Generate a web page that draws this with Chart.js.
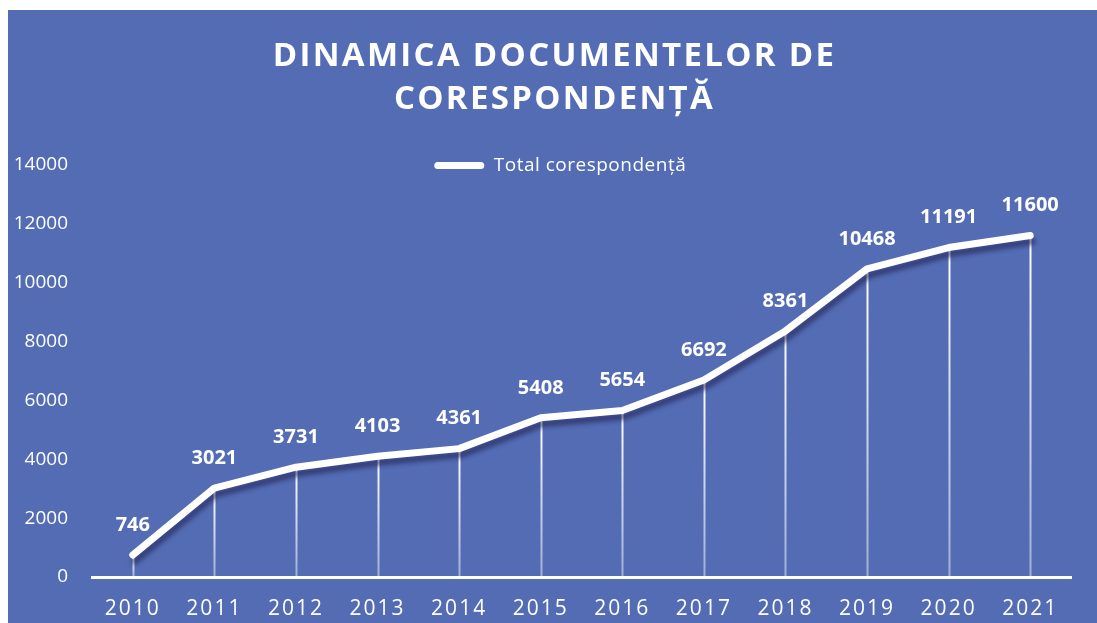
<!DOCTYPE html>
<html>
<head>
<meta charset="utf-8">
<script src="https://cdn.jsdelivr.net/npm/chart.js@4.4.1/dist/chart.umd.min.js"></script>
<style>
  html, body { margin: 0; padding: 0; background: #ffffff; }
  canvas { display: block; }
</style>
</head>
<body>
<canvas id="c" width="1097" height="623"></canvas>
<script>
// ---- data ----
const years = ['2010', '2011', '2012', '2013', '2014', '2015', '2016', '2017', '2018', '2019', '2020', '2021'];
const totalCorespondenta = [746, 3021, 3731, 4103, 4361, 5408, 5654, 6692, 8361, 10468, 11191, 11600];
const yTickValues = [0, 2000, 4000, 6000, 8000, 10000, 12000, 14000];
const titleLines = ['DINAMICA DOCUMENTELOR DE', 'CORESPONDENȚĂ'];
const seriesLabel = 'Total corespondență';

// ---- style ----
const BG = '#536cb4';
const FONT = '"Open Sans", "Noto Sans", sans-serif';
const LEGEND_H = 19;
const LEGEND_SHIFT = 14;
const TITLE_SHIFT = 13;

const bgPlugin = {
  id: 'bg',
  beforeDraw(chart) {
    const c = chart.ctx;
    c.save();
    c.fillStyle = '#ffffff';
    c.fillRect(0, 0, chart.width, chart.height);
    c.fillStyle = BG;
    c.fillRect(8, 10, chart.width - 8, chart.height - 10);
    c.restore();
  }
};

function withShift(box, dx, extraH, spacing) {
  const d = box.draw;
  box.draw = function (a) {
    const saved = { left: this.left, right: this.right, bottom: this.bottom, height: this.height };
    this.left += dx; this.right += dx;
    this.bottom += extraH; this.height += extraH;
    const c = this.ctx;
    c.save();
    if (spacing) c.letterSpacing = spacing;
    d.call(this, a);
    c.restore();
    Object.assign(this, saved);
  };
}

const patchPlugin = {
  id: 'patches',
  beforeLayout(chart) {
    const lg = chart.legend;
    if (lg && !lg.__p) {
      const f = lg.fit;
      lg.fit = function () { f.apply(this, arguments); this.height = LEGEND_H; };
      withShift(lg, LEGEND_SHIFT, 24, '0.5px');
      lg.__p = true;
    }
  },
  beforeDraw(chart) {
    const t = chart.titleBlock;
    if (t && !t.__p) {
      withShift(t, TITLE_SHIFT, 0, '2.3px');
      t.__p = true;
    }
    const x = chart.scales.x;
    if (x && !x.__p) {
      const dl = x.drawLabels;
      x.drawLabels = function (a) { const c = this.ctx; c.save(); c.letterSpacing = '2px'; dl.call(this, a); c.restore(); };
      x.__p = true;
    }
  }
};

const dropLines = {
  id: 'dropLines',
  beforeDatasetsDraw(chart) {
    const meta = chart.getDatasetMeta(0);
    const c = chart.ctx;
    const bottom = chart.chartArea.bottom;
    c.save();
    c.lineWidth = 2;
    meta.data.forEach((p) => {
      const g = c.createLinearGradient(0, p.y, 0, bottom);
      g.addColorStop(0, 'rgba(255,255,255,1)');
      g.addColorStop(1, 'rgba(255,255,255,0.45)');
      c.strokeStyle = g;
      c.beginPath();
      c.moveTo(Math.round(p.x) + 0.5, p.y);
      c.lineTo(Math.round(p.x) + 0.5, bottom);
      c.stroke();
    });
    c.restore();
  }
};

const lineShadow = {
  id: 'lineShadow',
  beforeDatasetDraw(chart) {
    const c = chart.ctx;
    c.save();
    c.shadowColor = 'rgba(35,35,85,0.6)';
    c.shadowOffsetX = 2;
    c.shadowOffsetY = 6;
    c.shadowBlur = 4;
  },
  afterDatasetDraw(chart) {
    chart.ctx.restore();
  }
};

const valueLabels = {
  id: 'valueLabels',
  afterDatasetsDraw(chart) {
    const meta = chart.getDatasetMeta(0);
    const ds = chart.data.datasets[0].data;
    const c = chart.ctx;
    c.save();
    c.fillStyle = '#ffffff';
    c.font = 'bold 20px ' + FONT;
    c.textAlign = 'center';
    c.textBaseline = 'middle';
    meta.data.forEach((p, i) => {
      c.fillText(String(ds[i]), p.x, p.y - 30);
    });
    c.restore();
  }
};

new Chart(document.getElementById('c'), {
  type: 'line',
  data: {
    labels: years,
    datasets: [{
      label: seriesLabel,
      data: totalCorespondenta,
      borderColor: '#ffffff',
      backgroundColor: '#ffffff',
      borderWidth: 7,
      borderCapStyle: 'round',
      borderJoinStyle: 'round',
      pointRadius: 0,
      pointHoverRadius: 0,
      tension: 0,
      fill: false
    }]
  },
  options: {
    responsive: false,
    animation: false,
    devicePixelRatio: 1,
    layout: { padding: { top: 10, left: 12, right: 26, bottom: 5 } },
    plugins: {
      title: {
        display: true,
        text: titleLines,
        color: '#ffffff',
        font: { family: FONT, size: 33, weight: 'bold', lineHeight: 1.3 },
        padding: { top: 25.5, bottom: 24.6 }
      },
      legend: {
        display: true,
        position: 'top',
        labels: {
          color: '#ffffff',
          font: { family: FONT, size: 19 },
          boxWidth: 50,
          boxHeight: 7,
          padding: 10,
          useBorderRadius: true,
          borderRadius: 3.5,
          generateLabels: () => [{
            text: seriesLabel,
            fillStyle: '#ffffff',
            strokeStyle: '#ffffff',
            fontColor: '#ffffff',
            lineWidth: 0,
            hidden: false,
            datasetIndex: 0,
            borderRadius: 3.5
          }]
        }
      },
      tooltip: { enabled: false }
    },
    scales: {
      x: {
        offset: true,
        afterFit: (s) => { s.height = 41; },
        grid: { display: false, drawTicks: false },
        border: { display: true, color: '#ffffff', width: 3 },
        ticks: { color: '#ffffff', font: { family: FONT, size: 21 }, padding: 19, maxRotation: 0, autoSkip: false }
      },
      y: {
        min: 0,
        max: 14000,
        afterBuildTicks: (s) => { s.ticks = yTickValues.map(v => ({ value: v })); },
        afterFit: (s) => { s.width = 80; },
        grid: { display: false, drawTicks: false },
        border: { display: false },
        ticks: {
          color: '#ffffff',
          font: { family: FONT, size: 19 },
          padding: 24,
          callback: (v) => String(v)
        }
      }
    }
  },
  plugins: [bgPlugin, patchPlugin, dropLines, lineShadow, valueLabels]
});
</script>
</body>
</html>
